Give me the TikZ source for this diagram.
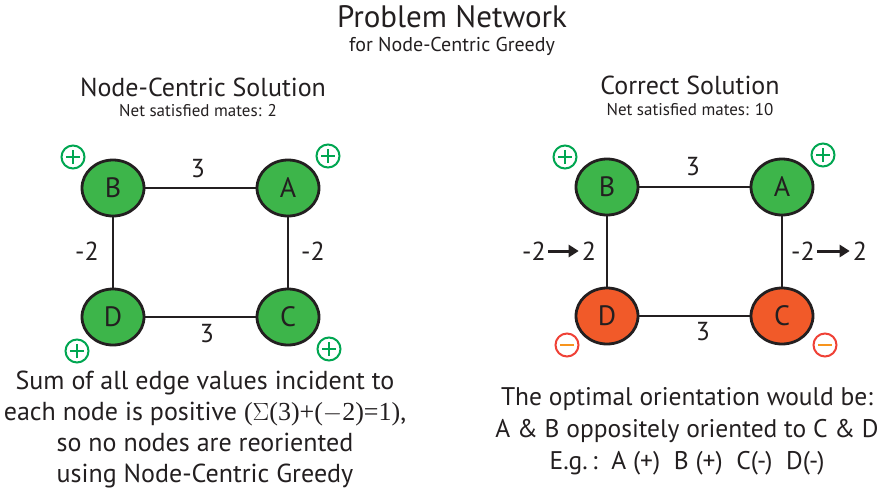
\documentclass[tikz,border=0pt]{standalone}
\usepackage{fontspec}
\setmainfont{PT Sans}
\newfontfamily\serifm{Liberation Serif}
\usetikzlibrary{arrows.meta,shapes.geometric}
\definecolor{nodegreen}{HTML}{3DB54A}
\definecolor{nodeorange}{HTML}{F15A29}
\definecolor{plusgreen}{HTML}{00A651}
\definecolor{minusred}{HTML}{EF4136}
\definecolor{minusorange}{HTML}{F7941D}
\definecolor{ink}{HTML}{231F20}
\tikzset{
  vert/.style={ellipse, draw=ink, line width=2.8pt, minimum width=62pt, minimum height=56pt, inner sep=0pt, font=\fontsize{28}{30}\selectfont, text=ink},
  gvert/.style={vert, fill=nodegreen},
  overt/.style={vert, fill=nodeorange},
  edge/.style={draw=ink, line width=2.5pt},
  elabel/.style={font=\fontsize{26}{28}\selectfont, text=ink, inner sep=1pt},
  plussign/.style={circle, draw=plusgreen, line width=2pt, minimum size=23pt, inner sep=0pt,
    path picture={\draw[plusgreen, line width=2pt] ([xshift=-7pt]path picture bounding box.center) -- ([xshift=7pt]path picture bounding box.center) ([yshift=-7pt]path picture bounding box.center) -- ([yshift=7pt]path picture bounding box.center);}},
  minussign/.style={circle, draw=minusred, line width=2pt, minimum size=23pt, inner sep=0pt,
    path picture={\draw[minusorange, line width=2.6pt] ([xshift=-7pt]path picture bounding box.center) -- ([xshift=7pt]path picture bounding box.center);}},
  flip/.style={-{Triangle[length=10pt,width=12pt]}, line width=3pt, draw=ink, shorten <=1pt, shorten >=2pt},
  bigtext/.style={font=\fontsize{26}{31}\selectfont, text=ink, align=center},
}
\begin{document}
\begin{tikzpicture}[x=1pt,y=-1pt]
\useasboundingbox (0,0) rectangle (883,493);
% titles
\node[font=\fontsize{31}{33}\selectfont, text=ink] (title) at (452,17) {Problem Network};
\node[font=\fontsize{20}{22}\selectfont, text=ink] (subtitle) at (452,46) {for Node-Centric Greedy};
\node[font=\fontsize{26}{28}\selectfont, text=ink] (ltitle) at (203,87) {Node-Centric Solution};
\node[font=\fontsize{17}{19}\selectfont, text=ink] (lsub) at (198,111) {Net satisfied mates: 2};
\node[font=\fontsize{26}{28}\selectfont, text=ink] (rtitle) at (690,85) {Correct Solution};
\node[font=\fontsize{17}{19}\selectfont, text=ink] (rsub) at (690,110) {Net satisfied mates: 10};

% left graph
\node[gvert] (lB) at (113,188) {B};
\node[gvert] (lA) at (288,188) {A};
\node[gvert] (lD) at (113,317) {D};
\node[gvert] (lC) at (288,317) {C};
\path[edge] (lB) -- (lA);
\path[edge] (lB) -- (lD);
\path[edge] (lA) -- (lC);
\path[edge] (lD) -- (lC);
\node[elabel] (lAB) at (198,169) {3};
\node[elabel] (lDC) at (207,334) {3};
\node[elabel] (lBD) at (87,251) {-2};
\node[elabel] (lAC) at (313,251) {-2};
\node[plussign] (lsB) at (73,157) {};
\node[plussign] (lsA) at (328,156) {};
\node[plussign] (lsD) at (77,351) {};
\node[plussign] (lsC) at (329,349) {};

% right graph
\node[gvert] (rB) at (607,187) {B};
\node[gvert] (rA) at (782,187) {A};
\node[overt] (rD) at (607,316) {D};
\node[overt] (rC) at (782,316) {C};
\path[edge] (rB) -- (rA);
\path[edge] (rB) -- (rD);
\path[edge] (rA) -- (rC);
\path[edge] (rD) -- (rC);
\node[elabel] (rAB) at (693,167) {3};
\node[elabel] (rDC) at (703,332) {3};
\node[elabel] (rBDa) at (534,251) {-2};
\node[elabel] (rBDb) at (589,251) {2};
\draw[flip] (rBDa.east) -- (rBDb.west);
\node[elabel] (rACa) at (803,251) {-2};
\node[elabel] (rACb) at (860,251) {2};
\draw[flip] (rACa.east) -- (rACb.west);
\node[plussign] (rsB) at (565,157) {};
\node[plussign] (rsA) at (823,155) {};
\node[minussign] (rsD) at (567,345) {};
\node[minussign] (rsC) at (825,345) {};

% bottom texts
\node[bigtext] (ltext) at (205,429) {Sum of all edge values incident to\\
each node is positive {\serifm($\Sigma$(3)+($-$2)=1)},\\
so no nodes are reoriented\\
using Node-Centric Greedy};
\node[bigtext, font=\fontsize{25.5}{32}\selectfont] (rtext) at (687,431) {The optimal orientation would be:\\
A \& B oppositely oriented to C \& D\\
E.g.\,:\ \ A (+)\ \ B (+)\ \ C(-)\ \ D(-)};
\end{tikzpicture}
\end{document}
